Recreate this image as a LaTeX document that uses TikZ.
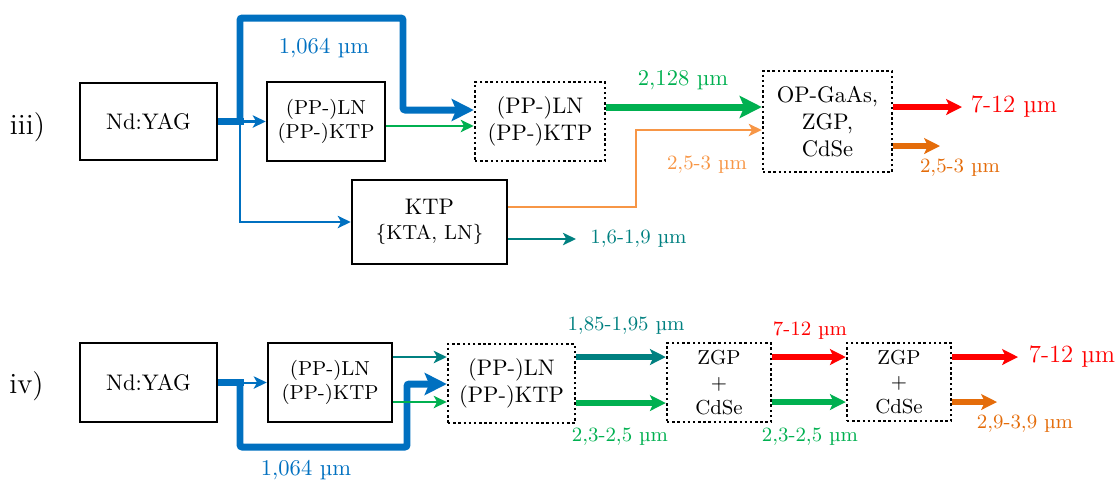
\documentclass[tikz,border=0pt]{standalone}
\usetikzlibrary{arrows.meta}
\definecolor{cblue}{RGB}{0,112,192}
\definecolor{cgreen}{RGB}{0,176,80}
\definecolor{cred}{RGB}{255,0,0}
\definecolor{corange}{RGB}{247,150,70}
\definecolor{cdorange}{RGB}{228,108,10}
\definecolor{cteal}{RGB}{0,128,128}
\begin{document}
\begin{tikzpicture}[x=0.444pt,y=-0.444pt,
  sz/.style 2 args={minimum width=#1*0.444pt, minimum height=#2*0.444pt},
  box/.style={draw, line width=1.1pt, inner sep=0pt, align=center},
  dbox/.style={draw, line width=1.1pt, dash pattern=on 1.1pt off 1.2pt, inner sep=0pt, align=center},
  lbl/.style={inner sep=0pt, font=\small},
  romlbl/.style={inner sep=0pt, font=\fontsize{13}{15}\selectfont},
  thinarr/.style={line width=0.9pt, -{Stealth[length=5.8pt,width=5.5pt,inset=1.5pt]}},
  bigarr/.style={line width=3.1pt, rounded corners=1pt, -{Stealth[length=9.8pt,width=9.8pt,inset=2pt]}},
  midarr/.style={line width=2.7pt, -{Stealth[length=7pt,width=7pt,inset=1.6pt]}},
  thickline/.style={line width=3.1pt},
]
\useasboundingbox (0,0) rectangle (1116,481);

% ---------- row iii ----------
\node[romlbl] (tiii) at (27.5,127) {iii)};
\node[box, sz={137}{77}] (nd3) at (148.5,121.5) {Nd:YAG};
\node[box, sz={118}{79}, font=\small] (pp3) at (326,121.5) {(PP-)LN\\(PP-)KTP};
\node[dbox, sz={130}{79}] (dp3) at (540,121.5) {(PP-)LN\\(PP-)KTP};
\node[box, sz={155}{84}] (ktp) at (429.5,222) {KTP\\[-1pt]{\small\{KTA, LN\}}};
\node[dbox, sz={129}{101}] (op) at (827.5,121.5) {OP-GaAs,\\ZGP,\\CdSe};

\coordinate (j3) at (240,121.5);
\coordinate (s3) at (243.5,121.5);
\coordinate (tl3) at (240,18);
\coordinate (tr3) at (403,18);
\coordinate (br3) at (403,110);
\coordinate (ko) at (636,207);
\coordinate (te3) at (576,239);
\coordinate (re3) at (962,107);
\coordinate (oe3) at (940,146);

\draw[bigarr, cblue] (j3) -- (tl3) -- (tr3) -- (br3) -- (dp3.west |- br3);
\draw[thickline, cblue] (nd3.east) -- (s3);
\draw[thinarr, cblue] (s3) -- (pp3.west);
\draw[thinarr, cblue] (j3) |- (ktp.west);
\draw[thinarr, cgreen] (pp3.east |- 0,126) -- (dp3.west |- 0,126);
\draw[bigarr, cgreen] (dp3.east |- 0,107) -- (op.west |- 0,107);
\draw[thinarr, corange] (ktp.east |- ko) -- (ko) -- (636,130) -- (op.west |- 0,130);
\draw[thinarr, cteal] (ktp.east |- te3) -- (te3);
\draw[midarr, cred] (op.east |- re3) -- (re3);
\draw[midarr, cdorange] (op.east |- oe3) -- (oe3);

\node[inner sep=0pt, text=cblue] (l1064a) at (324,48) {1,064 µm};
\node[inner sep=0pt, text=cgreen] (l2128) at (683,80) {2,128 µm};
\node[lbl, text=corange] (l253a) at (707,165) {2,5-3 µm};
\node[lbl, text=cteal] (l1619) at (638.5,239) {1,6-1,9 µm};
\node[inner sep=0pt, text=cred, font=\fontsize{11}{13}\selectfont] (l712a) at (1014,107) {7-12 µm};
\node[lbl, text=cdorange] (l253b) at (960,168) {2,5-3 µm};

% ---------- row iv ----------
\node[romlbl] (tiv) at (26.5,386) {iv)};
\node[box, sz={137}{79}] (nd4) at (148.5,382.5) {Nd:YAG};
\node[box, sz={124}{79}, font=\small] (pp4) at (330,382.5) {(PP-)LN\\(PP-)KTP};
\node[dbox, sz={127}{79}] (dp4) at (511.5,383.5) {(PP-)LN\\(PP-)KTP};
\node[dbox, sz={104}{79}, font=\small] (zg1) at (719,382.5) {ZGP\\+\\CdSe};
\node[dbox, sz={104}{78}, font=\small] (zg2) at (899,382) {ZGP\\+\\CdSe};

\coordinate (j4) at (240,382.5);
\coordinate (s4) at (243.5,382.5);
\coordinate (bl4) at (240,447);
\coordinate (br4) at (407,447);
\coordinate (tr4) at (407,384);
\coordinate (re4) at (1018,357);
\coordinate (oe4) at (997,402);

\draw[bigarr, cblue] (j4) -- (bl4) -- (br4) -- (tr4) -- (dp4.west |- tr4);
\draw[thickline, cblue] (nd4.east) -- (s4);
\draw[thinarr, cblue] (s4) -- (pp4.west);
\draw[thinarr, cteal] (pp4.east |- 0,357) -- (dp4.west |- 0,357);
\draw[thinarr, cgreen] (pp4.east |- 0,402) -- (dp4.west |- 0,402);
\draw[midarr, cteal] (dp4.east |- 0,357) -- (zg1.west |- 0,357);
\draw[midarr, cgreen] (dp4.east |- 0,403) -- (zg1.west |- 0,403);
\draw[midarr, cred] (zg1.east |- 0,357) -- (zg2.west |- 0,357);
\draw[midarr, cgreen] (zg1.east |- 0,402) -- (zg2.west |- 0,402);
\draw[midarr, cred] (zg2.east |- re4) -- (re4);
\draw[midarr, cdorange] (zg2.east |- oe4) -- (oe4);

\node[inner sep=0pt, text=cblue] (l1064b) at (306,470) {1,064 µm};
\node[lbl, text=cteal] (l18519) at (626,326) {1,85-1,95 µm};
\node[lbl, text=cgreen] (l2325a) at (620,437) {2,3-2,5 µm};
\node[lbl, text=cred] (l712b) at (810,331) {7-12 µm};
\node[lbl, text=cgreen] (l2325b) at (810,437) {2,3-2,5 µm};
\node[inner sep=0pt, text=cred, font=\fontsize{11}{13}\selectfont] (l712c) at (1072,357) {7-12 µm};
\node[lbl, text=cdorange] (l2939) at (1025,424) {2,9-3,9 µm};
\end{tikzpicture}
\end{document}
